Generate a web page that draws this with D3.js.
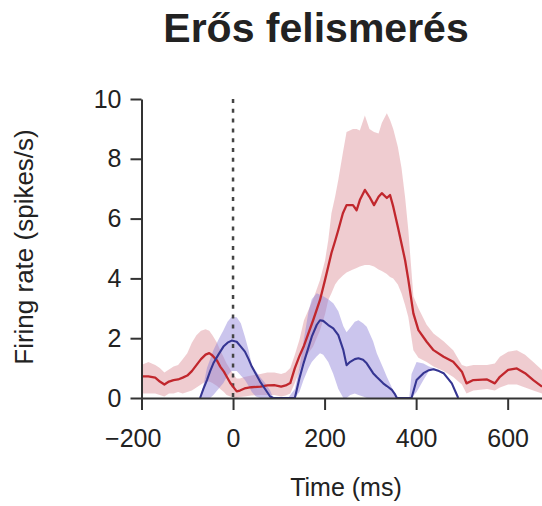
<!DOCTYPE html>
<html>
<head>
<meta charset="utf-8">
<script src="https://cdn.jsdelivr.net/npm/d3@7"></script>
<style>
  body { margin: 0; background: #fff; }
  svg text { font-family: "Liberation Sans", Arial, Helvetica, sans-serif; fill: #222; }
</style>
</head>
<body>
<div id="chart"></div>
<script>
///////// data //////////
const title = "Erős felismerés";
const xLabel = "Time (ms)";
const yLabel = "Firing rate (spikes/s)";
const xTicks = [-200, 0, 200, 400, 600];
const yTicks = [0, 2, 4, 6, 8, 10];

// red condition: time (ms), mean, lower and upper edge of the shaded band
const redTime = [-200, -185, -170, -160, -150, -140, -130, -120, -110, -100, -90, -80, -70, -60, -52, -45, -35, -28, -20, -14, -6, 0, 8, 15, 25, 40, 60, 75, 90, 105, 115, 125, 135, 145, 155, 175, 190, 201, 208, 215, 223, 230, 240, 248, 262, 270, 277, 288, 298, 308, 318, 325, 336, 343, 350, 360, 368, 376, 383, 394, 405, 423, 438, 460, 481, 500, 510, 525, 555, 572, 583, 601, 620, 638, 656, 675];
const redMean = [0.72, 0.72, 0.68, 0.55, 0.45, 0.55, 0.6, 0.62, 0.68, 0.75, 0.9, 1.1, 1.3, 1.45, 1.5, 1.42, 1.25, 1.05, 0.88, 0.72, 0.5, 0.38, 0.22, 0.25, 0.32, 0.36, 0.38, 0.42, 0.43, 0.38, 0.42, 0.5, 1.0, 1.4, 1.75, 2.6, 3.28, 3.95, 4.4, 4.85, 5.25, 5.62, 6.18, 6.45, 6.45, 6.28, 6.62, 6.96, 6.73, 6.45, 6.73, 6.85, 6.69, 6.79, 6.4, 5.73, 5.17, 4.6, 3.95, 2.83, 2.27, 1.88, 1.6, 1.38, 1.21, 0.88, 0.49, 0.6, 0.62, 0.49, 0.71, 0.94, 0.99, 0.83, 0.6, 0.38];
const redLow = [0.15, 0.15, 0.15, 0.1, 0.05, 0.15, 0.15, 0.2, 0.15, 0.2, 0.25, 0.35, 0.45, 0.55, 0.55, 0.5, 0.4, 0.3, 0.2, 0.1, 0.05, 0.02, 0.0, 0.03, 0.05, 0.08, 0.1, 0.1, 0.1, 0.05, 0.08, 0.15, 0.5, 0.9, 1.3, 1.72, 2.27, 2.8, 3.28, 3.5, 3.8, 3.95, 4.1, 4.2, 4.3, 4.35, 4.4, 4.45, 4.45, 4.4, 4.3, 4.25, 4.15, 4.05, 4.0, 3.8, 3.5, 3.1, 2.7, 1.6, 1.35, 1.2, 1.05, 0.9, 0.7, 0.45, 0.15, 0.25, 0.3, 0.25, 0.35, 0.45, 0.45, 0.35, 0.25, 0.15];
const redHigh = [1.1, 1.2, 1.1, 1.0, 0.85, 0.95, 1.05, 1.1, 1.3, 1.5, 1.85, 2.1, 2.25, 2.3, 2.25, 2.1, 1.85, 1.6, 1.35, 1.15, 0.95, 0.8, 0.65, 0.65, 0.7, 0.75, 0.8, 0.85, 0.85, 0.8, 0.85, 1.0, 1.45, 1.95, 2.6, 3.3, 3.95, 4.6, 5.28, 6.18, 6.73, 7.3, 8.2, 8.9, 9.0, 9.0, 8.95, 9.45, 9.0, 8.9, 8.85, 9.2, 9.52, 9.3, 9.0, 8.4, 7.7, 6.7, 5.6, 3.4, 3.0, 2.45, 2.16, 1.9, 1.6, 1.1, 1.05, 1.1, 1.1, 1.15, 1.38, 1.55, 1.6, 1.45, 1.2, 0.94];

// blue condition
const blueTime = [-72, -65, -57, -50, -43, -32, -21, -12, -3, 8, 17, 26, 34, 41, 50, 59, 70, 81, 88, 100, 120, 135, 145, 154, 165, 172, 183, 190, 197, 208, 219, 230, 241, 248, 256, 266, 274, 284, 292, 306, 314, 328, 336, 347, 354, 358, 370, 385, 390, 401, 416, 428, 438, 450, 460, 478, 492];
const blueMean = [0, 0.3, 0.6, 0.9, 1.16, 1.45, 1.72, 1.85, 1.92, 1.88, 1.72, 1.55, 1.3, 1.05, 0.8, 0.55, 0.3, 0.05, 0, 0, 0, 0, 0.65, 1.16, 1.7, 2.05, 2.45, 2.6, 2.58, 2.44, 2.33, 2.1, 1.6, 1.1, 1.21, 1.3, 1.33, 1.28, 1.16, 0.83, 0.7, 0.49, 0.4, 0.27, 0.12, 0, 0, 0, 0, 0.6, 0.83, 0.93, 0.96, 0.9, 0.83, 0.49, 0];
const blueLow = [0, 0, 0, 0, 0.1, 0.3, 0.5, 0.75, 0.9, 0.9, 0.75, 0.6, 0.4, 0.2, 0.05, 0, 0, 0, 0, 0, 0, 0, 0.2, 0.6, 1.0, 1.2, 1.4, 1.5, 1.45, 1.2, 0.8, 0.3, 0, 0, 0.1, 0.15, 0.1, 0.05, 0, 0, 0, 0, 0, 0, 0, 0, 0, 0, 0, 0.2, 0.6, 0.9, 0.96, 0.9, 0.83, 0.49, 0];
const blueHigh = [0, 0.4, 1.0, 1.3, 1.6, 1.95, 2.27, 2.55, 2.72, 2.7, 2.5, 2.05, 1.6, 1.1, 0.9, 0.7, 0.5, 0.25, 0, 0, 0, 0.3, 1.0, 1.9, 2.9, 3.3, 3.5, 3.45, 3.4, 3.3, 3.17, 2.9, 2.4, 2.2, 2.35, 2.55, 2.6, 2.5, 2.38, 1.9, 1.5, 1.0, 0.71, 0.35, 0.1, 0, 0, 0, 0.8, 1.2, 1.15, 1.05, 1.0, 0.92, 0.85, 0.5, 0];

////////////////////// drawing //////////////////////
const width = 542, height = 506;

const svg = d3.select("#chart")
  .append("svg")
  .attr("width", width)
  .attr("height", height);

const x = d3.scaleLinear().domain([-200, 675]).range([141.5, 542]);
const y = d3.scaleLinear().domain([0, 10]).range([398, 99]);

function rows(times, mean, low, high) {
  return times.map((t, i) => ({t: t, m: mean[i], lo: low[i], hi: high[i]}));
}
const redRows = rows(redTime, redMean, redLow, redHigh);
const blueRows = rows(blueTime, blueMean, blueLow, blueHigh);

const band = d3.area()
  .x(d => x(d.t))
  .y0(d => y(d.lo))
  .y1(d => y(d.hi));
const meanLine = d3.line()
  .x(d => x(d.t))
  .y(d => y(d.m));

// shaded bands
svg.append("path")
  .datum(redRows)
  .attr("d", band)
  .attr("fill", "#d9868e")
  .attr("fill-opacity", 0.42);
svg.append("path")
  .datum(blueRows)
  .attr("d", band)
  .attr("fill", "#8c7fd6")
  .attr("fill-opacity", 0.45);

// stimulus onset
svg.append("line")
  .attr("x1", x(0)).attr("x2", x(0))
  .attr("y1", y(10)).attr("y2", y(0))
  .attr("stroke", "#444")
  .attr("stroke-width", 2.5)
  .attr("stroke-dasharray", "4,5.8");

// mean lines
svg.append("path")
  .datum(redRows)
  .attr("d", meanLine)
  .attr("fill", "none")
  .attr("stroke", "#c1272d")
  .attr("stroke-width", 2.3)
  .attr("stroke-linejoin", "round");
svg.append("path")
  .datum(blueRows)
  .attr("d", meanLine)
  .attr("fill", "none")
  .attr("stroke", "#353592")
  .attr("stroke-width", 2.1)
  .attr("stroke-linejoin", "round");

// axes
const xAxis = svg.append("g")
  .attr("transform", "translate(0," + y(0) + ")")
  .call(d3.axisBottom(x).tickValues(xTicks).tickSize(12).tickSizeOuter(0).tickPadding(19));
xAxis.selectAll("text")
  .attr("dx", d => d < 0 ? "-0.35em" : 0);

const yAxis = svg.append("g")
  .attr("transform", "translate(" + x(-200) + ",0)")
  .call(d3.axisLeft(y).tickValues(yTicks).tickSize(11).tickSizeOuter(0).tickPadding(9));

svg.selectAll(".domain, .tick line")
  .attr("stroke", "#333")
  .attr("stroke-width", 2);
svg.selectAll(".tick text")
  .style("font-size", "25px")
  .attr("fill", "#1a1a1a");

// labels
svg.append("text")
  .attr("x", 346).attr("y", 496)
  .attr("text-anchor", "middle")
  .style("font-size", "25px")
  .text(xLabel);

svg.append("text")
  .attr("transform", "translate(33,247) rotate(-90)")
  .attr("text-anchor", "middle")
  .style("font-size", "26px")
  .text(yLabel);

svg.append("text")
  .attr("x", 316).attr("y", 42)
  .attr("text-anchor", "middle")
  .style("font-size", "41px")
  .style("font-weight", "bold")
  .attr("fill", "#000")
  .text(title);
</script>
</body>
</html>
